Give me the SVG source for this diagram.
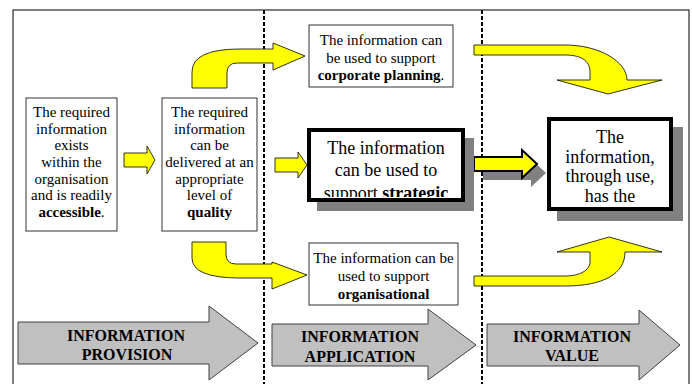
<svg xmlns="http://www.w3.org/2000/svg" width="692" height="384" viewBox="0 0 692 384">
<style>
text{font-family:'Liberation Serif','Times New Roman',Times,'DejaVu Serif','Noto Serif',serif;fill:#000;text-anchor:middle}
.t15{font-size:15px}
.t18{font-size:18px}
.lab{font-size:16px;font-weight:bold}
.b{font-weight:bold}
.box{fill:#fff;stroke:#333;stroke-width:1}
.thick{fill:#fff;stroke:#000;stroke-width:4}
.shadow{fill:#808080}
.yel{fill:#ffff00;stroke:#000;stroke-width:0.8;stroke-linejoin:miter}
.yelt{fill:#ffff00;stroke:#000;stroke-width:2}
.big{fill:#c0c0c0;stroke:#404040;stroke-width:1}
.dash{stroke:#000;stroke-width:2;stroke-dasharray:4 2;fill:none}
</style>
<defs>
<clipPath id="clipS"><rect x="311" y="132" width="150" height="65"/></clipPath>
<clipPath id="clipV"><rect x="551" y="121" width="118" height="86"/></clipPath>
</defs>
<rect width="692" height="384" fill="#fff"/>
<rect x="13" y="10" width="676" height="390" fill="none" stroke="#000" stroke-width="1"/>
<g id="dividers">
<line class="dash" x1="264" y1="10" x2="264" y2="384"/>
<line class="dash" x1="482" y1="10" x2="482" y2="384"/>
</g>
<g id="stage-provision">
<path class="big" d="M18,322 H209 V306 L258,343 L209,380 V364 H18 Z"/>
<text class="lab" x="126" y="341" font-family="Liberation Serif, serif">INFORMATION</text>
<text class="lab" x="127" y="360" font-family="Liberation Serif, serif">PROVISION</text>
</g>
<g id="stage-application">
<path class="big" d="M272,324 H428 V309 L476,345 L428,380 V366 H272 Z"/>
<text class="lab" x="360" y="342">INFORMATION</text>
<text class="lab" x="360" y="362">APPLICATION</text>
</g>
<g id="stage-value">
<path class="big" d="M487,324 H639 V310 L680,345 L639,380 V366 H487 Z"/>
<text class="lab" x="572" y="342">INFORMATION</text>
<text class="lab" x="572" y="361">VALUE</text>
</g>
<g id="connectors">
<path class="yel" d="M124,153 H147 V146 L155,160 L147,174 V167 H124 Z"/>
<path class="yel" d="M275,158 H298 V152 L307,165 L298,178 V172 H275 Z"/>
<path class="yel" d="M192,88 V72 Q192,49 240,49 H273 V43 L305,56 L273,70 V63 H237 Q227,63 227,73 V88 Z"/>
<path class="yel" d="M192,242 V258 Q192,278 240,278 H272 V289 L307,275 L272,262 V264 H236 Q226,264 226,254 V242 Z"/>
<path class="yel" d="M474,45 H565 C600,45 627,62 627,80 H662 L608,94 L557,80 H590 V72 C590,60 580,55 565,55 H474 Z"/>
<path class="yel" d="M474,276 H565 C580,276 590,270 590,262 V252 H557 L609,237 L662,252 H625 C625,274 603,286 565,286 H474 Z"/>
<path class="shadow" d="M483,166 H531 V159 L546,173 L531,187 V180 H483 Z"/>
<path class="yelt" d="M474,157 H522 V150 L537,164 L522,178 V171 H474 Z"/>
</g>
<g id="box-accessible">
<rect class="box" x="26" y="98" width="91" height="133"/>
<text class="t15" x="71.5" y="117">The required</text>
<text class="t15" x="71.5" y="134">information</text>
<text class="t15" x="71.5" y="150">exists</text>
<text class="t15" x="71.5" y="167">within the</text>
<text class="t15" x="71.5" y="184">organisation</text>
<text class="t15" x="71.5" y="200">and is readily</text>
<text class="t15" x="71.5" y="217"><tspan class="b">accessible</tspan>.</text>
</g>
<g id="box-quality">
<rect class="box" x="162" y="98" width="95" height="133"/>
<text class="t15" x="209.5" y="117">The required</text>
<text class="t15" x="209.5" y="134">information</text>
<text class="t15" x="209.5" y="150">can be</text>
<text class="t15" x="209.5" y="167">delivered at an</text>
<text class="t15" x="209.5" y="184">appropriate</text>
<text class="t15" x="209.5" y="200">level of</text>
<text class="t15 b" x="209.5" y="217">quality</text>
</g>
<g id="box-corporate">
<rect class="box" x="309" y="25" width="144" height="62"/>
<text class="t15" x="381" y="45">The information can</text>
<text class="t15" x="381" y="62.5">be used to support</text>
<text class="t15" x="381" y="80"><tspan class="b">corporate planning</tspan>.</text>
</g>
<g id="box-strategic">
<rect class="shadow" x="317" y="138" width="157" height="73"/>
<rect class="thick" x="309" y="130" width="154" height="70"/>
<g clip-path="url(#clipS)">
<text class="t18" x="386" y="154">The information</text>
<text class="t18" x="386" y="176">can be used to</text>
<text class="t18" x="386" y="199">support <tspan class="b">strategic</tspan></text>
</g>
</g>
<g id="box-organisational">
<rect class="box" x="309" y="243" width="149" height="62"/>
<text class="t15" x="383.5" y="263">The information can be</text>
<text class="t15" x="383.5" y="281">used to support</text>
<text class="t15 b" x="383.5" y="299">organisational</text>
</g>
<g id="box-value">
<rect class="shadow" x="557" y="127" width="126" height="94"/>
<rect class="thick" x="549" y="119" width="122" height="90"/>
<g clip-path="url(#clipV)">
<text class="t18" x="610" y="143">The</text>
<text class="t18" x="610" y="163">information,</text>
<text class="t18" x="610" y="182">through use,</text>
<text class="t18" x="610" y="202">has the</text>
</g>
</g>
</svg>
